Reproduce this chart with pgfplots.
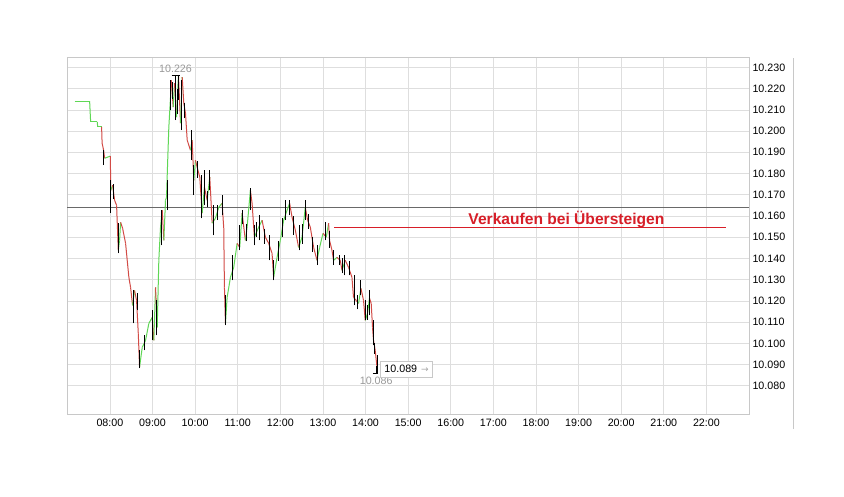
\documentclass[border=0pt]{standalone}
\usepackage{pgfplots}
\pgfplotsset{compat=1.18}
\usepackage{pgfplotstable}
\usepackage{fontspec}
\setmainfont{Liberation Sans}
\newfontfamily\symfont{DejaVu Sans}
\definecolor{lgreen}{RGB}{95,215,85}
\definecolor{lred}{RGB}{210,75,70}
\definecolor{sigred}{RGB}{215,30,40}
\definecolor{hlinec}{RGB}{105,105,105}
\definecolor{gridc}{RGB}{222,222,222}
\definecolor{framec}{RGB}{200,200,200}

\pgfplotstableread{
t v m
7.173 10.2141 1
7.524 10.2141 1
7.548 10.2043 1
7.705 10.2043 1
7.712 10.2020 1
7.805 10.2020 0
7.817 10.1943 0
7.852 10.1910 0
7.876 10.1872 1
8.010 10.1882 0
8.020 10.1721 1
8.063 10.1745 0
8.110 10.1674 0
8.157 10.1650 0
8.197 10.1438 1
8.227 10.1485 1
8.251 10.1570 0
8.298 10.1542 0
8.368 10.1471 0
8.445 10.1311 0
8.485 10.1264 0
8.532 10.1179 1
8.579 10.1249 0
8.626 10.1202 0
8.666 10.1047 0
8.696 10.0888 1
8.759 10.0981 1
8.837 10.1014 1
8.914 10.1094 1
8.994 10.1122 0
9.031 10.1014 1
9.071 10.1264 0
9.111 10.1075 1
9.148 10.1391 1
9.188 10.1547 1
9.228 10.1627 0
9.266 10.1485 1
9.305 10.1674 1
9.329 10.1688 1
9.359 10.1877 1
9.383 10.2018 1
9.423 10.2160 1
9.439 10.2240 0
9.486 10.2113 1
9.516 10.2226 0
9.563 10.2066 1
9.594 10.2207 1
9.610 10.2259 0
9.657 10.2037 1
9.697 10.2254 0
9.734 10.2132 0
9.774 10.2084 0
9.814 10.1957 0
9.891 10.1910 1
9.931 10.1957 0
9.969 10.1768 1
10.008 10.1863 0
10.048 10.1830 0
10.109 10.1783 0
10.165 10.1613 1
10.219 10.1735 0
10.283 10.1674 1
10.344 10.1783 0
10.400 10.1566 1
10.477 10.1589 1
10.555 10.1641 1
10.634 10.1660 0
10.672 10.1542 0
10.688 10.1264 0
10.712 10.1094 1
10.751 10.1216 1
10.829 10.1311 1
10.906 10.1358 1
10.986 10.1471 0
11.047 10.1452 1
11.103 10.1613 0
11.180 10.1485 1
11.220 10.1547 1
11.297 10.1721 0
11.337 10.1660 0
11.391 10.1500 1
11.492 10.1547 1
11.572 10.1580 0
11.649 10.1500 0
11.726 10.1471 0
11.806 10.1424 0
11.843 10.1311 1
11.923 10.1405 1
12.000 10.1485 1
12.078 10.1580 1
12.158 10.1627 1
12.218 10.1660 0
12.275 10.1594 0
12.352 10.1533 0
12.429 10.1452 1
12.509 10.1500 1
12.586 10.1641 0
12.640 10.1580 0
12.704 10.1547 0
12.781 10.1452 0
12.861 10.1391 1
12.922 10.1452 1
13.001 10.1518 0
13.079 10.1500 1
13.133 10.1566 0
13.156 10.1485 0
13.212 10.1438 0
13.250 10.1391 1
13.329 10.1405 0
13.407 10.1391 0
13.446 10.1344 1
13.524 10.1391 0
13.601 10.1358 0
13.681 10.1311 0
13.718 10.1216 0
13.782 10.1202 0
13.836 10.1188 1
13.892 10.1259 0
13.953 10.1202 0
13.993 10.1108 1
14.046 10.1141 1
14.093 10.1212 0
14.133 10.1188 0
14.164 10.1075 0
14.187 10.1014 0
14.227 10.0967 0
14.267 10.0891 0
14.274 10.0890 0
}\pathdata

\pgfplotstableread{
t lo hi
7.86 10.1839 10.1910
8.016 10.1613 10.1768
8.08 10.1680 10.1750
8.197 10.1424 10.1566
8.555 10.1094 10.1249
8.65 10.1155 10.1235
8.696 10.0882 10.0967
8.80 10.0967 10.1037
9.00 10.1014 10.1155
9.10 10.1037 10.1202
9.21 10.1462 10.1627
9.34 10.1627 10.1768
9.43 10.2099 10.2240
9.47 10.2150 10.2230
9.53 10.2052 10.2240
9.58 10.2080 10.2200
9.62 10.2146 10.2259
9.69 10.2005 10.2240
9.76 10.2060 10.2130
9.91 10.1863 10.2005
9.97 10.1698 10.1839
10.05 10.1780 10.1860
10.14 10.1589 10.1792
10.22 10.1650 10.1816
10.28 10.1640 10.1720
10.34 10.1721 10.1816
10.42 10.1509 10.1650
10.52 10.1580 10.1650
10.63 10.1603 10.1698
10.72 10.1085 10.1226
10.87 10.1297 10.1415
11.03 10.1438 10.1556
11.10 10.1560 10.1630
11.20 10.1480 10.1560
11.30 10.1627 10.1731
11.39 10.1462 10.1556
11.45 10.1500 10.1570
11.52 10.1485 10.1603
11.62 10.1470 10.1540
11.75 10.1391 10.1509
11.84 10.1297 10.1391
11.95 10.1390 10.1480
12.05 10.1500 10.1590
12.12 10.1580 10.1674
12.22 10.1603 10.1674
12.30 10.1510 10.1600
12.45 10.1438 10.1556
12.52 10.1470 10.1560
12.59 10.1580 10.1674
12.65 10.1540 10.1610
12.75 10.1430 10.1500
12.86 10.1368 10.1462
13.05 10.1485 10.1570
13.15 10.1450 10.1530
13.25 10.1368 10.1438
13.38 10.1368 10.1415
13.45 10.1330 10.1400
13.50 10.1320 10.1415
13.62 10.1320 10.1390
13.73 10.1179 10.1320
13.80 10.1160 10.1230
13.89 10.1226 10.1297
13.99 10.1108 10.1202
14.05 10.1110 10.1180
14.10 10.1132 10.1249
14.18 10.0990 10.1108
14.22 10.0950 10.1000
14.27 10.0858 10.0943
}\wickdata

\begin{document}
\begin{tikzpicture}
\useasboundingbox (0,0) rectangle (844pt,496pt);
\fill[white] (0,0) rectangle (844pt,496pt);
\draw[framec, line width=0.6pt] (793pt,67pt) -- (793pt,438pt);
\begin{axis}[
  at={(67.3pt,82pt)}, anchor=south west,
  scale only axis, width=681.7pt, height=357pt,
  xmin=7, xmax=23, ymin=10.0667, ymax=10.2349,
  xtick={8,9,10,11,12,13,14,15,16,17,18,19,20,21,22},
  xticklabels={08:00,09:00,10:00,11:00,12:00,13:00,14:00,15:00,16:00,17:00,18:00,19:00,20:00,21:00,22:00},
  ytick={10.08,10.09,10.10,10.11,10.12,10.13,10.14,10.15,10.16,10.17,10.18,10.19,10.20,10.21,10.22,10.23},
  yticklabel pos=right,
  yticklabel style={anchor=west, xshift=0pt, /pgf/number format/.cd, fixed, fixed zerofill, precision=3, assume math mode=true},
  xticklabel style={anchor=north, yshift=-1pt},
  tick label style={font=\fontsize{10.7}{12}\selectfont, text=black},
  major tick length=0pt,
  grid=major,
  grid style={gridc, line width=0.6pt},
  axis line style={framec, line width=0.6pt},
  colormap={rg}{color=(lred) color=(lred) color=(lgreen) color=(lgreen)},
  point meta min=0, point meta max=1,
  clip=false,
]
% reference lines
\addplot[color=hlinec, line width=0.8pt, forget plot] coordinates {(7,10.1642) (23,10.1642)};
\fill[sigred] (axis cs:13.25,10.15415) rectangle (axis cs:22.47,10.15485);
\node[text=sigred, anchor=base, font=\fontsize{15.6}{17}\selectfont\bfseries, inner sep=0pt] at (axis cs:18.715,10.1562) {Verkaufen bei Übersteigen};
% price path
\addplot[mesh, shader=flat corner, line width=1pt, point meta=explicit, forget plot] table[x=t, y=v, meta=m] {\pathdata};
% wicks
\addplot[draw=none, mark=none, forget plot,
  error bars/.cd, y dir=plus, y explicit, error mark=none,
  error bar style={draw=black, line width=0.9pt}]
  table[x=t, y=lo, y error expr=\thisrow{hi}-\thisrow{lo}] {\wickdata};
% high / low markers
\addplot[color=black, line width=0.8pt, forget plot] coordinates {(9.446,10.2264) (9.634,10.2264)};
\addplot[color=black, line width=0.8pt, forget plot] coordinates {(9.54,10.2264) (9.54,10.2240)};
\addplot[color=black, line width=0.8pt, forget plot] coordinates {(14.173,10.0858) (14.304,10.0858)};
\addplot[color=black, line width=0.8pt, forget plot] coordinates {(14.25,10.0858) (14.25,10.0891)};
\node[anchor=south, text=gray!80, font=\fontsize{10.7}{12}\selectfont, inner sep=2.5pt] at (axis cs:9.54,10.2264) {10.226};
\node[anchor=north, text=gray!80, font=\fontsize{10.7}{12}\selectfont, inner sep=2.5pt, yshift=-1pt] at (axis cs:14.25,10.0858) {10.086};
\node[anchor=west, draw=framec, fill=white, line width=0.6pt, font=\fontsize{10.7}{12}\selectfont, minimum height=16pt, inner xsep=4pt, inner ysep=0pt] at (axis cs:14.343,10.0878) {10.089\hspace{4pt}{\symfont\color{gray!70}\fontsize{9}{10}\selectfont →}};
\end{axis}
\end{tikzpicture}
\end{document}
